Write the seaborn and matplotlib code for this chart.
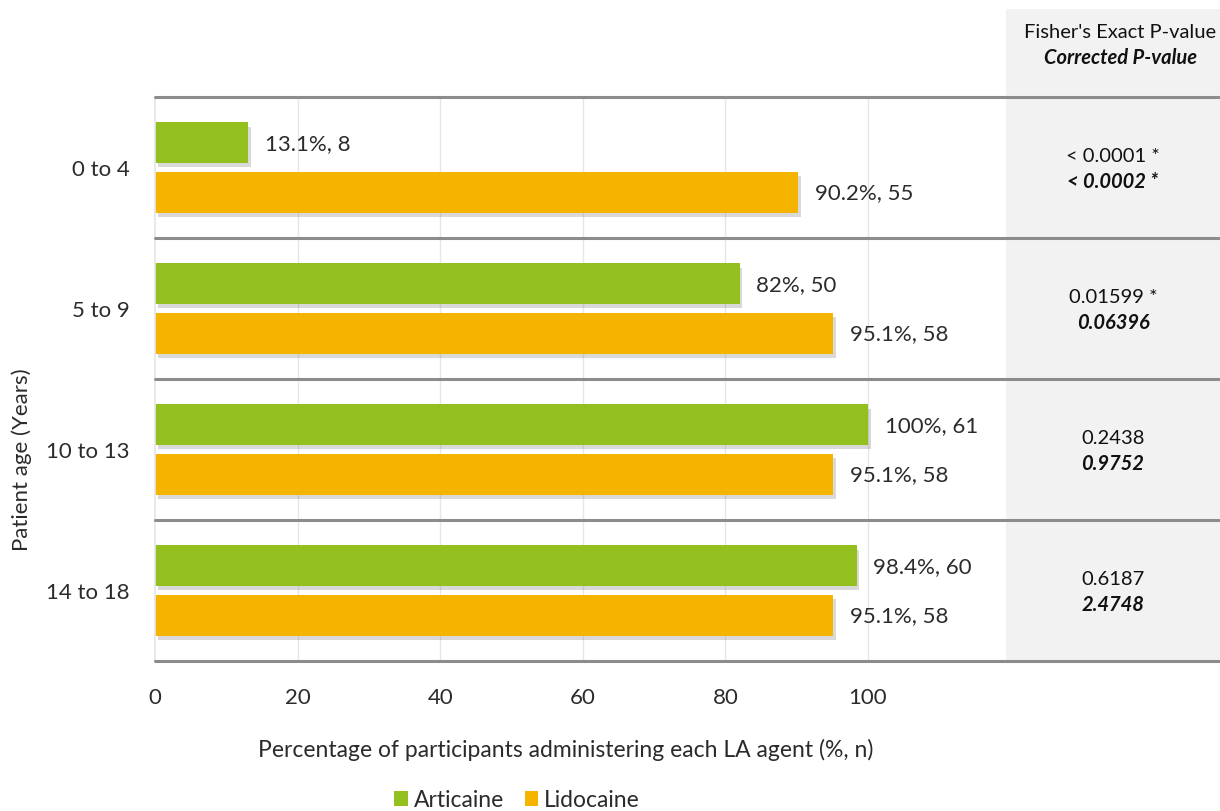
import pandas as pd
import matplotlib.pyplot as plt
import matplotlib.patheffects as pe
from matplotlib.patches import Rectangle, Patch
import seaborn as sns

# Chart data
ages = ['0 to 4', '5 to 9', '10 to 13', '14 to 18']
agents = ['Articaine', 'Lidocaine']
articaine_pct = [13.1, 82, 100, 98.4]
articaine_n = [8, 50, 61, 60]
lidocaine_pct = [90.2, 95.1, 95.1, 95.1]
lidocaine_n = [55, 58, 58, 58]
fisher_p = ['< 0.0001 *', '0.01599 *', '0.2438', '0.6187']
corrected_p = ['< 0.0002 *', '0.06396', '0.9752', '2.4748']
x_ticks = [0, 20, 40, 60, 80, 100]

colors = {'Articaine': '#93c01f', 'Lidocaine': '#f4b400'}
text_color = '#2b2b2b'

df = pd.DataFrame({
    'age': ages * 2,
    'agent': ['Articaine'] * len(ages) + ['Lidocaine'] * len(ages),
    'pct': articaine_pct + lidocaine_pct,
    'n': articaine_n + lidocaine_n,
})

sns.set_theme(style='white')
plt.rcParams['font.family'] = ['Lato', 'DejaVu Sans']

W, H = 1220, 812
fig = plt.figure(figsize=(W / 100, H / 100), dpi=100)
ax = fig.add_axes([155 / W, (H - 662) / H, (W - 155) / W, (662 - 98) / H])
ax.patch.set_alpha(0)

px_per_unit = (868 - 155) / 100
x_max = (W - 155) / px_per_unit

# grey panel for the p-value column
fig.patches.append(Rectangle((1006 / W, (H - 662) / H), (W - 1006) / W, (662 - 10) / H,
                             transform=fig.transFigure, facecolor='#f2f2f2',
                             edgecolor='none', zorder=-1))

sns.barplot(data=df, y='age', x='pct', hue='agent', orient='h', palette=colors,
            width=0.70, gap=0.17, ax=ax, legend=False, saturation=1, linewidth=0)

shadow = [pe.SimplePatchShadow(offset=(2, -3), alpha=0.22, shadow_rgbFace='#555555'), pe.Normal()]
for cont, agent in zip(ax.containers, agents):
    sub = df[df['agent'] == agent]
    labels = [f"{p:g}%, {n}" for p, n in zip(sub['pct'], sub['n'])]
    for bar in cont:
        bar.set_path_effects(shadow)
    ax.bar_label(cont, labels=labels, padding=12, fontsize=16, color=text_color)

ax.set_xlim(0, x_max)
ax.set_ylim(len(ages) - 0.5, -0.5)
ax.set_xticks(x_ticks)
for xt in x_ticks[1:]:
    ax.axvline(xt, color='#e6e6e6', lw=1, zorder=0)
for i in range(len(ages) + 1):
    ax.axhline(i - 0.5, color='#8c8c8c', lw=2.2, zorder=3, clip_on=False)

for s in ['top', 'right', 'bottom']:
    ax.spines[s].set_visible(False)
ax.spines['left'].set_color('#e6e6e6')
ax.tick_params(axis='x', length=0, pad=19, labelsize=16, labelcolor=text_color)
ax.tick_params(axis='y', length=0, pad=18, labelsize=16, labelcolor=text_color)
ax.set_xlabel('')
ax.set_ylabel('')

# p-value column
col_x = (1113 - 155) / px_per_unit
for i in range(len(ages)):
    ax.text(col_x, i - 0.085, fisher_p[i], ha='center', va='center', fontsize=14.5,
            color='#111111', clip_on=False)
    ax.text(col_x, i + 0.095, corrected_p[i], ha='center', va='center', fontsize=14.5,
            color='#111111', fontweight='bold', fontstyle='italic', clip_on=False)

fig.text(1120 / W, 1 - 32 / H, "Fisher's Exact P-value", ha='center', va='center',
         fontsize=14.5, color='#111111')
fig.text(1120 / W, 1 - 58 / H, 'Corrected P-value', ha='center', va='center',
         fontsize=14.5, color='#111111', fontweight='bold', fontstyle='italic')

fig.text(566 / W, 1 - 750 / H, 'Percentage of participants administering each LA agent (%, n)',
         ha='center', va='center', fontsize=16.5, color=text_color)
fig.text(22 / W, 1 - 460 / H, 'Patient age (Years)', rotation=90, ha='center', va='center',
         fontsize=16, color=text_color)

handles = [Patch(facecolor=colors[a], edgecolor='none') for a in agents]
fig.legend(handles, agents, loc='center', bbox_to_anchor=(517 / W, 1 - 801 / H), ncol=2,
           frameon=False, fontsize=16.5, handlelength=0.6, handleheight=0.6,
           handletextpad=0.25, columnspacing=0.9, labelcolor=text_color)

plt.savefig('out.png', dpi=100)
